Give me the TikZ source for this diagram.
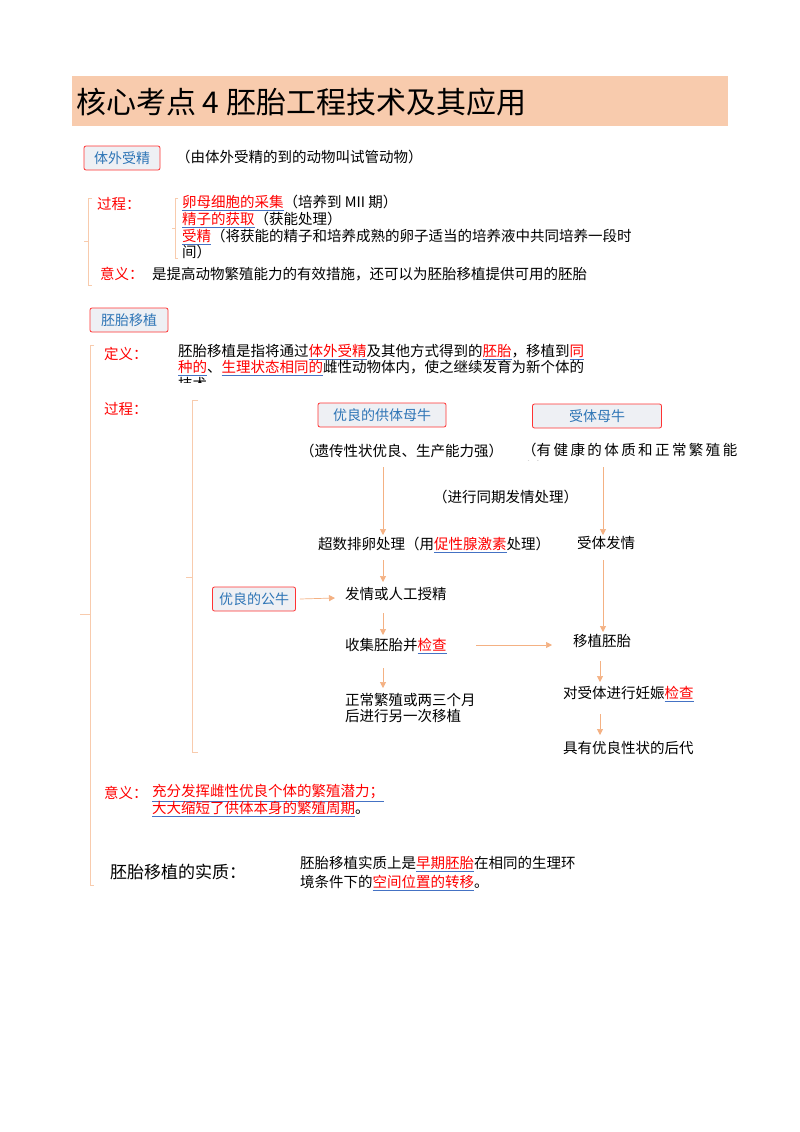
\documentclass[tikz,border=0pt]{standalone}
\usepackage{fontspec}
\setmainfont{Noto Sans CJK SC}
\usetikzlibrary{arrows.meta}
\definecolor{peach}{HTML}{F8CBAD}
\definecolor{arr}{HTML}{F4B183}
\definecolor{boxfill}{HTML}{EEF0F4}
\definecolor{boxtxt}{HTML}{2E75B6}
\definecolor{rd}{HTML}{FF0000}
\definecolor{ulb}{HTML}{4472C4}
\newcommand\hl[1]{\textcolor{ulb}{\underline{\textcolor{rd}{#1}}}}
\tikzset{
  tbox/.style={draw=rd!80, fill=boxfill, rounded corners=2pt, line width=0.8pt, text=boxtxt, font=\fontsize{14}{16}\selectfont, minimum height=24pt, inner sep=3pt},
  txt/.style={anchor=west, inner sep=0pt, font=\fontsize{14.5}{17}\selectfont},
  red/.style={txt, text=rd},
  ar/.style={draw=arr, line width=0.7pt, -{Triangle[length=6pt,width=6pt]}},
  brk/.style={draw=peach, line width=0.7pt}
}
\begin{document}
\begin{tikzpicture}[x=1pt,y=-1pt]
\useasboundingbox (0,0) rectangle (800,1132);
\fill[white] (0,0) rectangle (800,1132);
\fill[peach] (72,76) rectangle (728,126);
\node[txt, font=\fontsize{30}{32}\selectfont] (title) at (76,102) {核心考点 4 胚胎工程技术及其应用};
% section 1
\node[tbox, minimum width=76pt] (b1) at (122,158) {体外受精};
\node[txt] (n1) at (176,157) {（由体外受精的到的动物叫试管动物）};
\draw[brk] (92,198) -- (88,198) -- (88,285) -- (92,285) (88,241) -- (84,241);
\draw[brk] (178,198) -- (175,198) -- (175,258) -- (178,258) (175,228) -- (172,228);
\node[red] (g1) at (97,204) {过程：};
\node[txt] (l1) at (182,203) {\hl{卵母细胞的采集}（培养到 MII 期）};
\node[txt] (l2) at (182,220) {\hl{精子的获取}（获能处理）};
\node[txt] (l3) at (182,237) {\hl{受精}（将获能的精子和培养成熟的卵子适当的培养液中共同培养一段时};
\node[txt] (l4) at (182,252) {间）};
\node[red] (y1) at (100,274) {意义：};
\node[txt] (y1t) at (152,274) {是提高动物繁殖能力的有效措施，还可以为胚胎移植提供可用的胚胎};
% section 2
\node[tbox, minimum width=78pt] (b2) at (129,320) {胚胎移植};
\draw[brk] (94,345) -- (90,345) -- (90,885) -- (94,885) (90,614) -- (80,614);
\node[red] (d) at (104,354) {定义：};
\node[txt] (d1) at (178,352) {胚胎移植是指将通过\hl{体外受精}及其他方式得到的\hl{胚胎}，移植到\hl{同}};
\node[txt] (d2) at (178,368) {\hl{种的}、\hl{生理状态相同的}雌性动物体内，使之继续发育为新个体的};
\begin{scope}
\clip (170,376) rectangle (600,382);
\node[txt] (d3) at (178,384) {技术};
\end{scope}
\node[red] (g2) at (104,409) {过程：};
\draw[brk] (198,400) -- (192,400) -- (192,752) -- (198,752) (192,577) -- (186,577);
\node[tbox, minimum width=128pt] (donor) at (382,415) {优良的供体母牛};
\node[tbox, minimum width=129pt] (recv) at (597,416) {受体母牛};
\node[txt] (dn) at (300,451) {（遗传性状优良、生产能力强）};
\begin{scope}
\clip (515,440) rectangle (740,460);
\node[txt] (rn) at (522,450) {（有\,健\,康\,的\,体\,质\,和\,正\,常\,繁\,殖\,能};
\node[txt] (rn2) at (522,468) {力）};
\end{scope}
\node[txt] (sync) at (433,497) {（进行同期发情处理）};
\node[txt] (s1) at (318,545) {超数排卵处理（用\hl{促性腺激素}处理）};
\node[txt] (r1) at (577,543) {受体发情};
\node[txt] (s2) at (345,594) {发情或人工授精};
\node[tbox, minimum width=83pt] (bull) at (254,599) {优良的公牛};
\node[txt] (s3) at (345,646) {收集胚胎并\hl{检查}};
\node[txt] (r2) at (573,641) {移植胚胎};
\node[txt] (s4) at (345,700) {正常繁殖或两三个月};
\node[txt] (s5) at (345,716) {后进行另一次移植};
\node[txt] (r3) at (563,694) {对受体进行妊娠\hl{检查}};
\node[txt] (r4) at (563,748) {具有优良性状的后代};
\coordinate (a1) at (383,467); \coordinate (a2) at (383,535);
\draw[ar] (a1) -- (a2);
\coordinate (c1) at (603,467); \coordinate (c2) at (603,535);
\draw[ar] (c1) -- (c2);
\coordinate (a3) at (383,560); \coordinate (a4) at (383,582);
\draw[ar] (a3) -- (a4);
\coordinate (a5) at (335,598);
\draw[ar] (bull.east) ++(4,0) -- (a5);
\coordinate (a6) at (383,613); \coordinate (a7) at (383,635);
\draw[ar] (a6) -- (a7);
\coordinate (h1) at (476,645); \coordinate (h2) at (552,645);
\draw[ar] (h1) -- (h2);
\coordinate (c3) at (603,560); \coordinate (c4) at (603,632);
\draw[ar] (c3) -- (c4);
\coordinate (a8) at (383,668); \coordinate (a9) at (383,688);
\draw[ar] (a8) -- (a9);
\coordinate (c5) at (600,661); \coordinate (c6) at (600,682);
\draw[ar] (c5) -- (c6);
\coordinate (c7) at (600,714); \coordinate (c8) at (600,735);
\draw[ar] (c7) -- (c8);
\node[red] (y2) at (104,793) {意义：};
\node[txt] (y2a) at (152,793) {\hl{充分发挥雌性优良个体的繁殖潜力；}};
\node[txt] (y2b) at (152,809) {\hl{大大缩短了供体本身的繁殖周期}。};
\node[txt, font=\fontsize{17}{20}\selectfont] (ess) at (110,872) {胚胎移植的实质：};
\node[txt] (e1) at (300,864) {胚胎移植实质上是\hl{早期胚胎}在相同的生理环};
\node[txt] (e2) at (300,883) {境条件下的\hl{空间位置的转移}。};
\end{tikzpicture}
\end{document}
